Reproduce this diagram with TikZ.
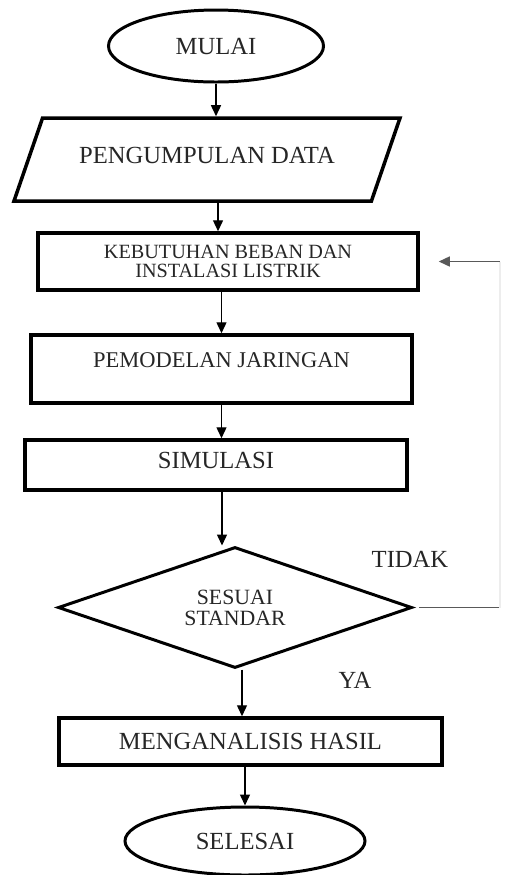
\documentclass[tikz,border=0pt]{standalone}
\usepackage{fontspec}
\setmainfont{Liberation Serif}
\usetikzlibrary{arrows.meta,shapes.geometric,calc}

\begin{document}
\begin{tikzpicture}[
  x=0.2mm, y=-0.2mm,
  every node/.style={font=\fontsize{14}{16}\selectfont, text=black!85},
  terminal/.style={draw, ellipse, line width=1.7pt, inner sep=0pt},
  io/.style={draw, trapezium, trapezium left angle=71, trapezium right angle=109,
             trapezium stretches body, line width=2pt, inner xsep=0pt},
  process/.style={draw, rectangle, line width=2pt, inner sep=0pt},
  decision/.style={draw, diamond, line width=1.7pt, inner sep=0pt, align=center},
  arr/.style={-{Triangle[length=2.2mm,width=2mm]}, line width=0.8pt},
  back/.style={draw=black!65, line width=0.8pt},
  faint/.style={draw=black!7, line width=0.6pt}
]
  \useasboundingbox (0,0) rectangle (505,875);

  % main column
  \node[terminal, minimum width=43mm, minimum height=14.4mm] (mulai) at (216,46) {MULAI};
  \node[io, minimum width=77.2mm, inner ysep=5.8mm, text height=3.2mm, text depth=1.8mm]
    (data) at (207,159.5) {PENGUMPULAN DATA};
  \node[process, align=center, minimum width=76mm, minimum height=11.4mm,
        font=\fontsize{11.5}{11}\selectfont] (keb) at (228,261.5)
    {KEBUTUHAN BEBAN DAN\\INSTALASI LISTRIK};
  \node[process, minimum width=76.2mm, minimum height=13.6mm, text height=3mm, text depth=3.6mm,
        font=\fontsize{12.8}{15}\selectfont] (model) at (221.5,369) {PEMODELAN JARINGAN};
  \node[process, minimum width=76.4mm, minimum height=10mm, text height=3.2mm, text depth=2mm]
    (sim) at (216,465) {SIMULASI};
  \node[decision, minimum width=70.8mm, minimum height=24.2mm, aspect=2.93,
        font=\fontsize{12.4}{12}\selectfont] (cek) at (235,607.5) {SESUAI\\STANDAR};
  \node[process, minimum width=76.6mm, minimum height=9.4mm] (hasil) at (250.5,741.5) {MENGANALISIS HASIL};
  \node[terminal, minimum width=48mm, minimum height=13.6mm] (selesai) at (245,841) {SELESAI};

  % branch labels
  \node (tidak) at (410,559) {TIDAK};
  \node (ya) at (355,680) {YA};

  % arrows
  \coordinate (d1) at ([xshift=2.2mm]data.south);
  \coordinate (s1) at ([xshift=1.2mm]sim.south);
  \coordinate (c1) at ([xshift=1.4mm]cek.south);
  \draw[arr] (mulai) -- (mulai |- data.north);
  \draw[arr] (d1) -- (d1 |- keb.north);
  \draw[arr] (model |- keb.south) -- (model);
  \draw[arr] (model) -- (model |- sim.north);
  \draw[arr] (s1) -- (s1 |- cek.north);
  \draw[arr] (c1) -- (c1 |- hasil.north);
  \draw[arr] (selesai |- hasil.south) -- (selesai);

  % loop back
  \coordinate (rt) at (500,0);
  \draw[back] ([xshift=1.2mm]cek.east) -- (cek.east -| rt);
  \draw[faint] (cek.east -| rt) -- (keb.east -| rt);
  \draw[back, arr] (keb.east -| rt) -- ([xshift=3.8mm]keb.east);
\end{tikzpicture}
\end{document}
